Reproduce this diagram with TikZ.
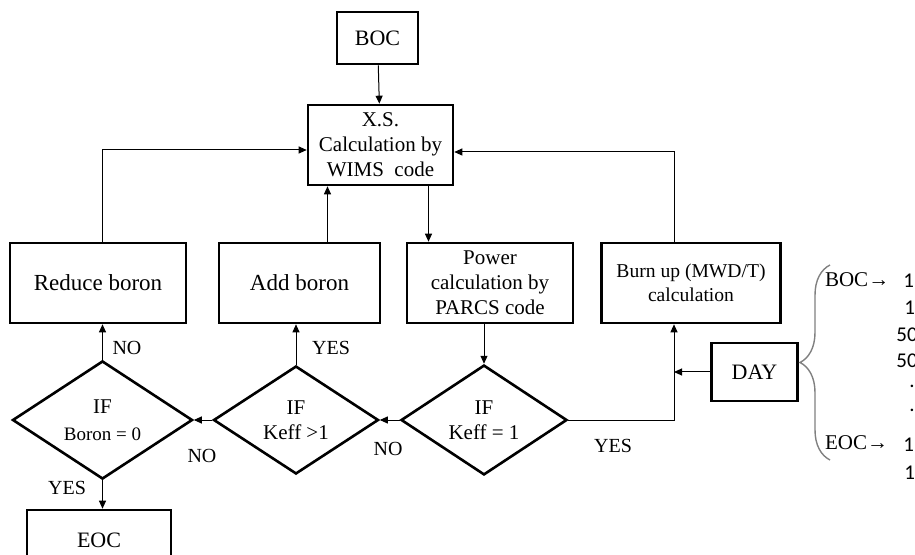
\documentclass[tikz,border=0pt]{standalone}
\usepackage{fontspec}
\setmainfont{Liberation Serif}
\newfontfamily\numfont{Carlito}
\usetikzlibrary{arrows.meta,shapes.geometric,decorations.pathreplacing,calc}

\tikzset{
  box/.style={draw, line width=1.3pt, align=center, inner sep=1pt, font=\fontsize{10.5}{12.5}\selectfont},
  test/.style={draw, diamond, line width=1.3pt, align=center, inner sep=0pt, minimum height=54pt, font=\fontsize{10.5}{12.5}\selectfont},
  line/.style={-{Triangle[length=4pt,width=3.5pt]}, line width=0.5pt},
  tag/.style={font=\fontsize{10}{12}\selectfont},
}

\begin{document}
\begin{tikzpicture}[x=0.5pt, y=-0.5pt]
  \useasboundingbox (0,0) rectangle (915,555);
  % boxes
  \node [box, minimum width=40.5pt, minimum height=26pt, font=\fontsize{11}{13}\selectfont] (boc) at (377.5,38) {BOC};
  \node [box, minimum width=72.5pt, minimum height=40pt] (xs) at (380.5,145) {X.S.\\Calculation by\\WIMS\ \ code};
  \node [box, minimum width=88pt, minimum height=40pt, font=\fontsize{11.5}{13}\selectfont] (reduce) at (98,283) {Reduce boron};
  \node [box, minimum width=80.5pt, minimum height=40pt, font=\fontsize{11.5}{13}\selectfont] (add) at (299.5,283) {Add boron};
  \node [box, minimum width=83pt, minimum height=40pt] (power) at (490,283) {Power\\calculation by\\PARCS code};
  \node [box, minimum width=89.5pt, minimum height=40pt, font=\fontsize{9.8}{12}\selectfont] (burn) at (691,283) {Burn up (MWD/T)\\calculation};
  \node [box, minimum width=43pt, minimum height=29pt, font=\fontsize{11}{13}\selectfont] (day) at (754.5,372) {DAY};
  \node [box, minimum width=72pt, minimum height=30pt, font=\fontsize{11}{13}\selectfont] (eoc) at (99,540) {EOC};
  % decisions
  \node [test, minimum width=90pt] (ifb) at (102.5,420) {IF\\[1pt]{\fontsize{9.5}{11}\selectfont Boron = 0}};
  \node [test, minimum width=82.5pt] (ifk) at (296,420) {IF\\Keff >1};
  \node [test, minimum width=83pt] (ife) at (484,420) {IF\\Keff = 1};
  % connectors
  \coordinate (bu) at ([xshift=-8.5pt]burn.south);
  \draw [line] (boc) -- (xs);
  \draw [line] (ifb.north |- reduce.north) |- ([yshift=-2.5pt]xs.west);
  \draw [line] ([xshift=14pt]add.north) -- ([xshift=14pt]add.north |- xs.south);
  \draw [line] ([xshift=24pt]xs.south) -- ([xshift=24pt]xs.south |- power.north);
  \draw [line] ([xshift=-8.5pt]burn.north) |- ([yshift=-3.5pt]xs.east);
  \draw [line] (ife.north |- power.south) -- (ife.north);
  \draw [line] (ife.west) -- (ifk.east);
  \draw [line] (ifk.west) -- (ifb.east);
  \draw [line] (ifk.north) -- (ifk.north |- add.south);
  \draw [line] (ifb.north) -- (ifb.north |- reduce.south);
  \draw [line] (ifb.south) -- (ifb.south |- eoc.north);
  \draw [line] (ife.east) -| (bu);
  \draw [line] (day.west) -- (day.west -| bu);
  % labels
  \node [tag] (no1) at (127,348) {NO};
  \node [tag] (yes1) at (331,348) {YES};
  \node [tag] (no2) at (202,456) {NO};
  \node [tag] (no3) at (388,449) {NO};
  \node [tag] (yes2) at (613,446) {YES};
  \node [tag] (yes3) at (67,488) {YES};
  % day list
  \draw [gray, line width=0.7pt, decorate, decoration={brace, amplitude=15pt}] (830,460) -- (830,265);
  \node [tag, anchor=west, font=\fontsize{10.5}{12}\selectfont] (lboc) at (818,280) {BOC→};
  \node [tag, anchor=west, font=\fontsize{10.5}{12}\selectfont] (leoc) at (818,443) {EOC→};
  \begin{scope}[font=\numfont\fontsize{10.5}{12}\selectfont]
    \node [anchor=west, inner sep=0pt] (d1) at (903,281) {1};
    \node [anchor=west, inner sep=0pt] (d2) at (904,308) {1};
    \node [anchor=west, inner sep=0pt] (d3) at (896,335) {50};
    \node [anchor=west, inner sep=0pt] (d4) at (896,361) {50};
    \node [anchor=west, inner sep=0pt] (d5) at (909,386) {.};
    \node [anchor=west, inner sep=0pt] (d6) at (909,410) {.};
    \node [anchor=west, inner sep=0pt] (d7) at (903,445) {1};
    \node [anchor=west, inner sep=0pt] (d8) at (904,473) {1};
  \end{scope}
\end{tikzpicture}
\end{document}
